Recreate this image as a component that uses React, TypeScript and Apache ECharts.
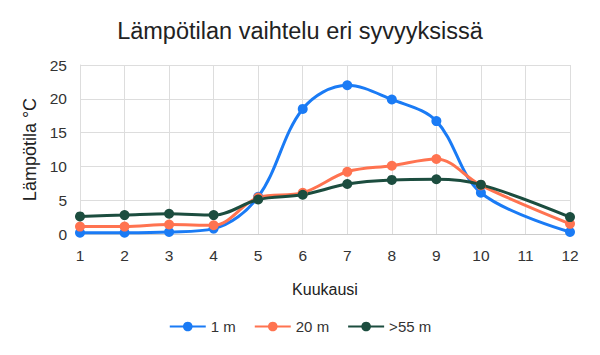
import React, { useEffect, useRef } from "react";
import * as echarts from "echarts";

const months = [1, 2, 3, 4, 5, 6, 7, 8, 9, 10, 12];
const s1m = [0.2, 0.2, 0.3, 0.8, 5.5, 18.5, 22.0, 19.9, 16.7, 6.1, 0.3];
const s20m = [1.1, 1.1, 1.4, 1.3, 5.4, 6.1, 9.2, 10.1, 11.1, 7.2, 1.5];
const s55m = [2.6, 2.8, 3.0, 2.8, 5.1, 5.8, 7.4, 8.0, 8.1, 7.3, 2.5];
const seriesNames = ["1 m", "20 m", ">55 m"];
const colors = ["#1a7bf5", "#ff7350", "#1c4d3f"];

export default function App() {
  const ref = useRef<HTMLDivElement>(null);
  useEffect(() => {
    const chart = echarts.init(ref.current!, null, { renderer: "svg" });
    const font = "'Liberation Sans', Arial, sans-serif";
    const all = [s1m, s20m, s55m];
    chart.setOption({
      animation: false,
      textStyle: { fontFamily: font },
      title: {
        text: "Lämpötilan vaihtelu eri syvyyksissä",
        left: "center",
        top: 6,
        textStyle: { fontSize: 23.5, fontWeight: "normal", color: "#222", fontFamily: font },
      },
      color: colors,
      legend: {
        bottom: 8,
        left: "center",
        itemWidth: 36,
        itemHeight: 12,
        itemGap: 18,
        textStyle: { fontSize: 15, color: "#333", fontFamily: font },
        data: seriesNames,
      },
      grid: { left: 72, right: 22, top: 57, bottom: 113 },
      xAxis: {
        type: "value",
        min: 1,
        max: 12,
        interval: 1,
        name: "Kuukausi",
        nameLocation: "middle",
        nameGap: 47,
        nameTextStyle: { fontSize: 16, color: "#222", fontFamily: font },
        axisLine: { show: true, lineStyle: { color: "#ccc" } },
        axisTick: { show: false },
        axisLabel: { fontSize: 15.5, color: "#333", margin: 13 },
        splitLine: { show: true, lineStyle: { color: "#ddd" } },
      },
      yAxis: {
        type: "value",
        min: 0,
        max: 25,
        interval: 5,
        name: "Lämpötila °C",
        nameLocation: "middle",
        nameGap: 40,
        nameTextStyle: { fontSize: 18, color: "#222", fontFamily: font },
        axisLine: { show: true, lineStyle: { color: "#ddd" } },
        axisTick: { show: false },
        axisLabel: { fontSize: 15.5, color: "#333", margin: 13 },
        splitLine: { show: true, lineStyle: { color: "#ddd" } },
      },
      series: seriesNames.map((n, i) => ({
        name: n,
        type: "line",
        smooth: 0.35,
        symbol: "circle",
        symbolSize: 10,
        lineStyle: { width: 3, color: colors[i] },
        itemStyle: { color: colors[i] },
        data: months.map((m, j) => [m, all[i][j]]),
      })),
    });
    return () => chart.dispose();
  }, []);
  return <div ref={ref} style={{ width: 584, height: 339 }} />;
}
